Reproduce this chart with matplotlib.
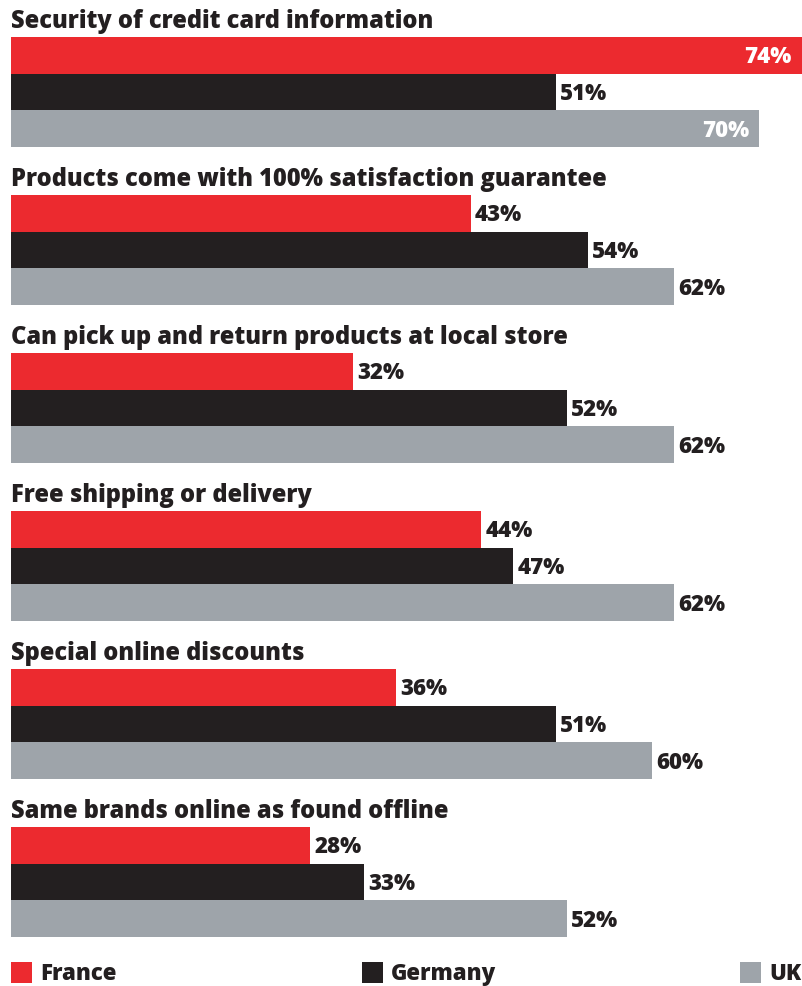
import matplotlib
matplotlib.use("Agg")
import matplotlib.pyplot as plt
from matplotlib.patches import Rectangle

# Survey data: share of respondents citing each factor, by country (%)
categories = [
    "Security of credit card information",
    "Products come with 100% satisfaction guarantee",
    "Can pick up and return products at local store",
    "Free shipping or delivery",
    "Special online discounts",
    "Same brands online as found offline",
]
countries = ["France", "Germany", "UK"]
france = [74, 43, 32, 44, 36, 28]
germany = [51, 54, 52, 47, 51, 33]
uk = [70, 62, 62, 62, 60, 52]

colors = ["#EC2A2F", "#231F20", "#9EA4AA"]
text_dark = "#231F20"
font = "Open Sans"
weight = 800

W, H = 803, 986
fig = plt.figure(figsize=(W / 100, H / 100), dpi=100)
fig.patch.set_facecolor("white")

# axes: x in percent, y in pixel rows (top = 0)
x0_px = 11
px_per_pct = 10.69
ax = fig.add_axes([x0_px / W, 0, 1 - x0_px / W, 1])
ax.set_xlim(0, (W - x0_px) / px_per_pct)
ax.set_ylim(H, 0)
ax.axis("off")

bar_h = 36.67
first_bar_top = 37
group_pitch = 158
title_fs = 17.0
label_fs = 16.0
cap = 0.714  # cap-height fraction of the font size

series = [france, germany, uk]
for g, cat in enumerate(categories):
    top = first_bar_top + g * group_pitch
    ax.text(0, top - 9, cat, fontsize=title_fs, fontweight=weight,
            family=font, color=text_dark, ha="left", va="baseline")
    for s, vals in enumerate(series):
        v = vals[g]
        y = top + s * bar_h
        ax.barh(y, v, height=bar_h, align="edge", color=colors[s], linewidth=0)
        base = y + bar_h / 2 + label_fs * 100 / 72 * cap / 2
        if v > 66:
            ax.text(v - 10.5 / px_per_pct, base, f"{v}%", fontsize=label_fs,
                    fontweight=weight, family=font, color="white",
                    ha="right", va="baseline")
        else:
            ax.text(v + 4 / px_per_pct, base, f"{v}%", fontsize=label_fs,
                    fontweight=weight, family=font, color=text_dark,
                    ha="left", va="baseline")

# legend row along the bottom
legend_x = [11, 362, 740]
sq_top, sq_size = 962, 21
for lx, name, c in zip(legend_x, countries, colors):
    fig.patches.append(Rectangle((lx / W, 1 - (sq_top + sq_size) / H),
                                 sq_size / W, sq_size / H,
                                 transform=fig.transFigure, color=c, lw=0))
    fig.text((lx + sq_size + 8) / W, 1 - 980 / H, name, fontsize=label_fs,
             fontweight=weight, family=font, color=text_dark,
             ha="left", va="baseline")

fig.savefig("out.png", dpi=100, facecolor="white")
